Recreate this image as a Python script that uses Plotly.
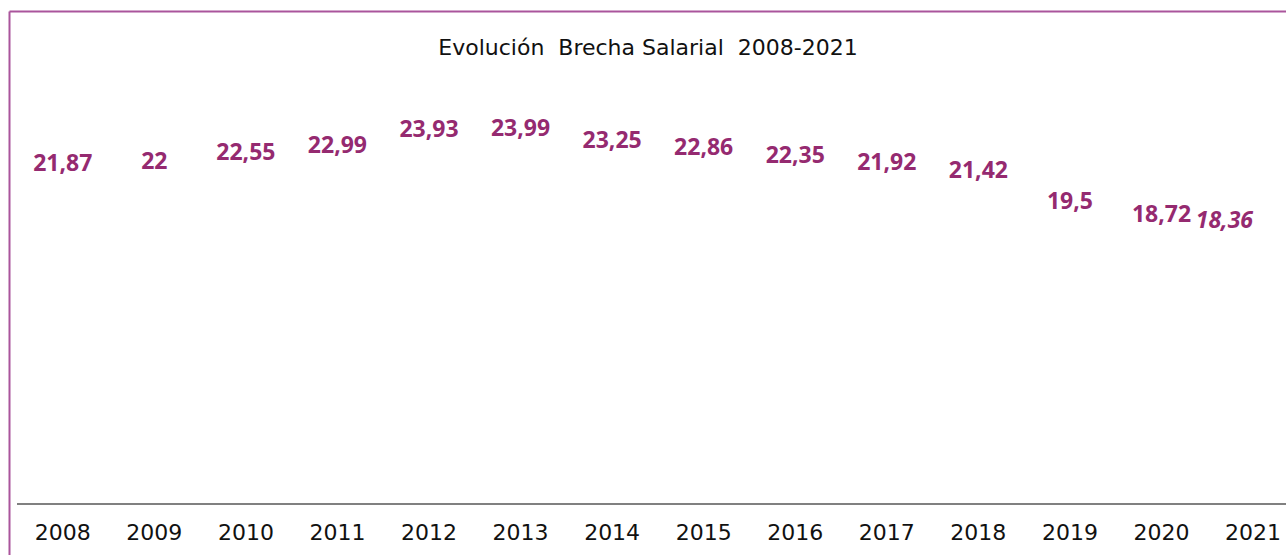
import plotly.graph_objects as go

years = ["2008", "2009", "2010", "2011", "2012", "2013", "2014",
         "2015", "2016", "2017", "2018", "2019", "2020", "2021"]
brecha = [21.87, 22, 22.55, 22.99, 23.93, 23.99, 23.25,
          22.86, 22.35, 21.92, 21.42, 19.5, 18.72, 18.36]
labels = ["21,87", "22", "22,55", "22,99", "23,93", "23,99", "23,25",
          "22,86", "22,35", "21,92", "21,42", "19,5", "18,72", "<i>18,36</i>"]
title_text = "Evolución  Brecha Salarial  2008-2021"

W, H = 1286, 555
ML, MR, MT, MB = 17, 0, 60, 52
PURPLE = "#952A70"
BORDER = "#AA559C"

x_idx = list(range(len(years)))
# last (provisional) label sits left of its point so it stays inside the frame
text_pos = ["middle center"] * (len(years) - 1) + ["middle left"]

fig = go.Figure()
fig.add_trace(go.Scatter(
    x=x_idx, y=brecha, mode="text", text=labels,
    textposition=text_pos,
    textfont=dict(family="Noto Sans", size=23, color=PURPLE, weight="bold"),
    hoverinfo="skip", showlegend=False, cliponaxis=False,
))

pw = W - ML - MR
ph = H - MT - MB
def px_x(p):
    return (p - ML) / pw
def px_y(p):
    return 1 - (p - MT) / ph

fig.add_shape(type="line", xref="paper", yref="paper",
              x0=px_x(9.5), x1=px_x(W + 5), y0=px_y(11.5), y1=px_y(11.5),
              line=dict(color=BORDER, width=2), layer="above")
fig.add_shape(type="line", xref="paper", yref="paper",
              x0=px_x(9.5), x1=px_x(9.5), y0=px_y(11.5), y1=px_y(H + 5),
              line=dict(color=BORDER, width=2), layer="above")

fig.update_layout(
    width=W, height=H,
    margin=dict(l=ML, r=MR, t=MT, b=MB, pad=0),
    paper_bgcolor="white", plot_bgcolor="white",
    title=dict(text=title_text, x=648 / W, xref="container", xanchor="center",
               y=1 - 47 / H, yref="container", yanchor="middle",
               font=dict(family="DejaVu Sans", size=22, color="#111111")),
    xaxis=dict(range=[-0.5, 13.36], tickvals=x_idx, ticktext=years,
               showgrid=False, zeroline=False, showline=True,
               linecolor="#808080", linewidth=2, ticks="",
               ticklabelstandoff=9,
               tickfont=dict(family="DejaVu Sans", size=22, color="#111111")),
    yaxis=dict(range=[1.0, 28.35], visible=False, showgrid=False, zeroline=False),
)

fig.write_html("out.html")
